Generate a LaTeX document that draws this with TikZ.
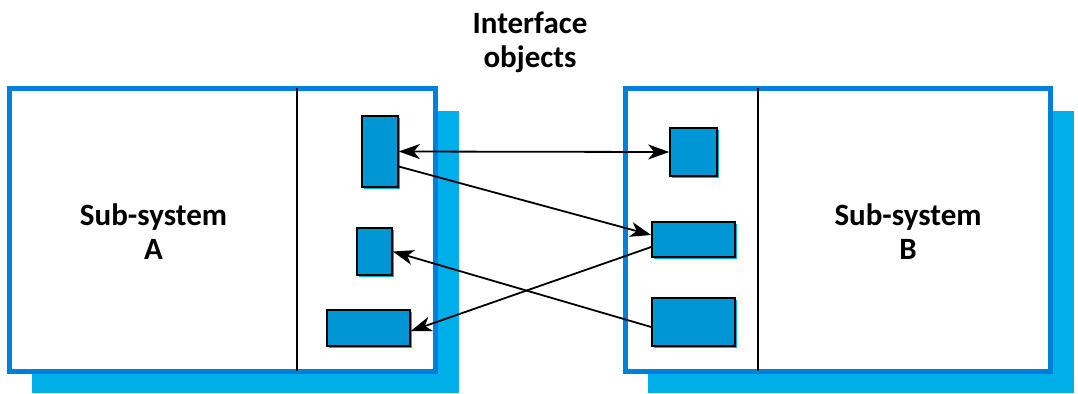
\documentclass[tikz,border=0pt]{standalone}
\usepackage{fontspec}
\setmainfont{Carlito}
\usetikzlibrary{arrows.meta,calc}

\definecolor{frameblue}{RGB}{0,128,216}
\definecolor{shadowcyan}{RGB}{0,174,232}
\definecolor{objblue}{RGB}{0,150,214}

\tikzset{
  subsystem/.style={draw=frameblue, line width=5bp, fill=white, inner sep=0pt},
  divider/.style={line width=1.4bp, black},
  iface/.style={draw=black, line width=1.6bp, fill=objblue, inner sep=0pt,
    minimum width=#1},
  label/.style={font=\bfseries\fontsize{31bp}{34bp}\selectfont, align=center, inner sep=0pt},
  tip/.style={Stealth[length=21bp,width=15bp,inset=6bp]},
  link/.style={line width=1.8bp, -{Stealth[length=21bp,width=15bp,inset=6bp]}},
  dlink/.style={line width=1.8bp, {Stealth[length=21bp,width=15bp,inset=6bp]}-{Stealth[length=21bp,width=15bp,inset=6bp]}},
}

\begin{document}
\begin{tikzpicture}[x=1bp,y=-1bp]
\useasboundingbox (0,0) rectangle (1078,393);

% drop shadows of the two sub-systems
\fill[shadowcyan] (32,111) rectangle (459,393);
\fill[shadowcyan] (648,111) rectangle (1074,393);

% sub-system frames
\node[subsystem, minimum width=425bp, minimum height=283bp] (boxA) at (222.5,229.5) {};
\node[subsystem, minimum width=425bp, minimum height=283bp] (boxB) at (837.5,229.5) {};

% dividers between sub-system and its interface part
\coordinate (dAt) at (297,88);
\coordinate (dAb) at (297,371);
\coordinate (dBt) at (758,88);
\coordinate (dBb) at (758,371);
\draw[divider] (dAt) -- (dAb);
\draw[divider] (dBt) -- (dBb);

% small shadow fringe under interface objects
\foreach \cx/\cy/\w/\h in {380/151.5/36/71, 374.5/251.5/35/47, 368.5/328/83/36,
                            693.5/152/47/48, 693.5/239.5/83/35, 693.5/322/83/48}{
  \fill[shadowcyan] (\cx-\w/2+2,\cy-\h/2+2) rectangle (\cx+\w/2+2,\cy+\h/2+2);
}

% interface objects of sub-system A
\node[iface=36bp, minimum height=71bp] (a1) at (380,151.5) {};
\node[iface=35bp, minimum height=47bp] (a2) at (374.5,251.5) {};
\node[iface=83bp, minimum height=36bp] (a3) at (368.5,328) {};

% interface objects of sub-system B
\node[iface=47bp, minimum height=48bp] (b1) at (693.5,152) {};
\node[iface=83bp, minimum height=35bp] (b2) at (693.5,239.5) {};
\node[iface=83bp, minimum height=48bp] (b3) at (693.5,322) {};

% labels
\node[label] (la) at (153.5,232) {Sub-system\\A};
\node[label] (lb) at (908,232) {Sub-system\\B};
\node[label] (li) at (530,42) {Interface\\objects};

% interactions
\draw[dlink] (a1.east) -- (b1.west);
\draw[link] ([yshift=-15bp]a1.east) -- ([yshift=4.5bp]b2.west);
\draw[link] ([yshift=-7.5bp]b2.west) -- ([yshift=-3bp]a3.east);
\draw[link] ([yshift=-5bp]b3.west) -- (a2.east);
\end{tikzpicture}
\end{document}
